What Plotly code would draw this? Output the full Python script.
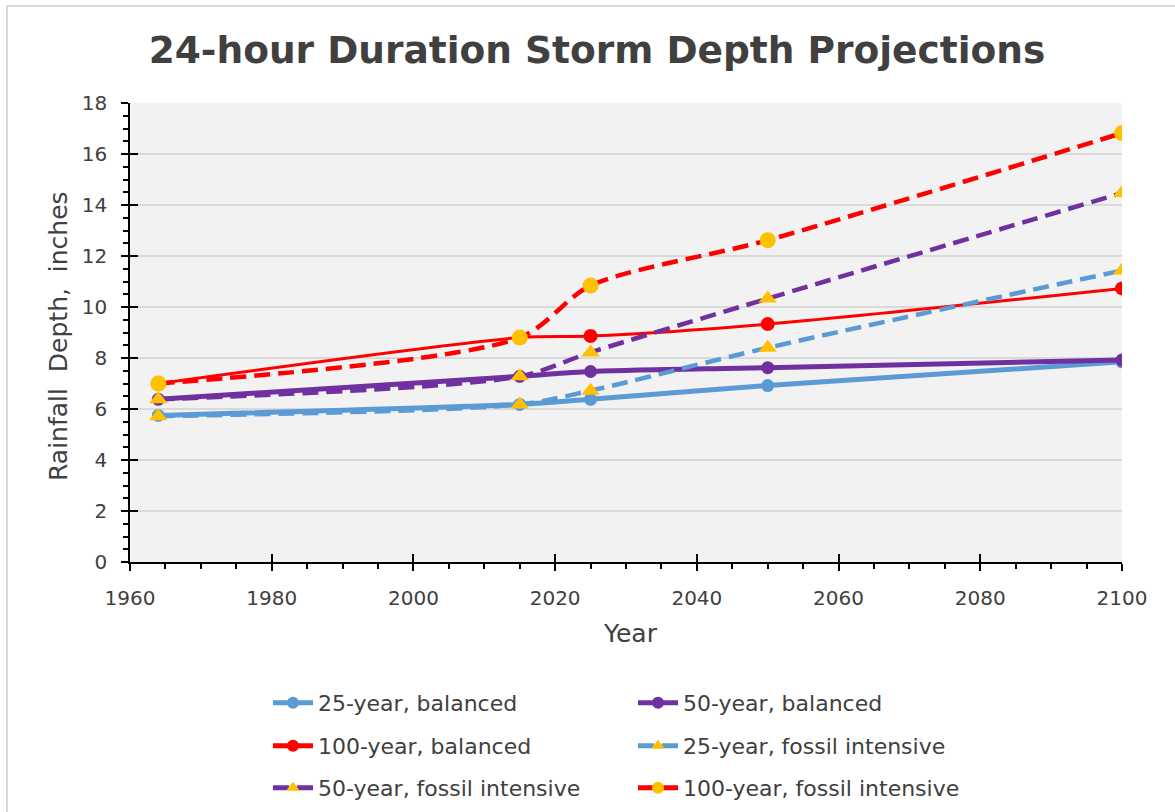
import plotly.graph_objects as go

years = [1964, 2015, 2025, 2050, 2100]

bal_25 = [5.75, 6.18, 6.38, 6.92, 7.85]
bal_50 = [6.38, 7.28, 7.47, 7.62, 7.92]
bal_100 = [7.0, 8.8, 8.86, 9.33, 10.73]
fos_25 = [5.72, 6.18, 6.72, 8.4, 11.43]
fos_50 = [6.38, 7.28, 8.22, 10.33, 14.47]
fos_100 = [7.0, 8.8, 10.84, 12.62, 16.82]

names = ["25-year, balanced", "50-year, balanced", "100-year, balanced",
         "25-year, fossil intensive", "50-year, fossil intensive", "100-year, fossil intensive"]

BLUE = "#5B9BD5"
PURPLE = "#7030A0"
RED = "#FF0000"
YELLOW = "#FFC000"
TXT = "#404040"

fig = go.Figure()

specs = [
    (bal_25, names[0], BLUE, 5, "solid", "circle", BLUE, 13, "legend"),
    (bal_50, names[1], PURPLE, 5, "solid", "circle", PURPLE, 13, "legend"),
    (bal_100, names[2], RED, 3, "solid", "circle", RED, 14, "legend2"),
    (fos_25, names[3], BLUE, 4.5, "16px,8px", "triangle-up", YELLOW, 16, "legend2"),
    (fos_50, names[4], PURPLE, 4.5, "16px,8px", "triangle-up", YELLOW, 16, "legend3"),
    (fos_100, names[5], RED, 4.5, "16px,8px", "circle", YELLOW, 16, "legend3"),
]

for vals, nm, col, w, dash, sym, mcol, msz, lg in specs:
    fig.add_trace(go.Scatter(
        x=years, y=vals, name=nm, mode="lines+markers",
        line=dict(color=col, width=w, dash=dash, shape="spline", smoothing=0.8),
        marker=dict(symbol=sym, color=mcol, size=msz, line=dict(width=0)),
        legend=lg,
    ))

W, H = 1175, 812
L, R, T, B = 130, W - 1122, 103, H - 562
pw = W - L - R
ph = H - T - B

def px_x(p):
    return (p - L) / pw

def px_y(p):
    return (H - B - p) / ph

leg_common = dict(orientation="h", font=dict(family="DejaVu Sans", size=22, color=TXT),
                  entrywidth=310, entrywidthmode="pixels", bgcolor="rgba(0,0,0,0)",
                  xanchor="left", yanchor="middle", itemwidth=40, itemsizing="constant",
                  xref="container", yref="container")

fig.update_layout(
    width=W, height=H,
    margin=dict(l=L, r=R, t=T, b=B, autoexpand=False),
    paper_bgcolor="white",
    plot_bgcolor="#F2F2F2",
    font=dict(family="DejaVu Sans", color=TXT),
    title=dict(text="<b>24-hour Duration Storm Depth Projections</b>",
               x=597 / W, xanchor="center", y=1 - 50 / H, yanchor="middle",
               xref="container", yref="container",
               font=dict(family="DejaVu Sans", size=37.5, color=TXT)),
    xaxis=dict(range=[1960, 2100], dtick=20, tick0=1960, showgrid=False,
               showline=True, linecolor="black", linewidth=1.5,
               ticks="outside", ticklen=7, tickwidth=1.5, tickcolor="black",
               minor=dict(dtick=5, ticks="outside", ticklen=5, tickwidth=1.5, tickcolor="black", showgrid=False),
               tickfont=dict(family="DejaVu Sans", size=20, color=TXT),
               zeroline=False, ticklabelstandoff=10),
    yaxis=dict(range=[0, 18], dtick=2, showgrid=True, gridcolor="#D9D9D9", gridwidth=1.5,
               showline=True, linecolor="black", linewidth=1.5,
               ticks="outside", ticklen=7, tickwidth=1.5, tickcolor="black",
               minor=dict(dtick=0.5, ticks="outside", ticklen=5, tickwidth=1.5, tickcolor="black", showgrid=False),
               tickfont=dict(family="DejaVu Sans", size=20, color=TXT),
               zeroline=False, ticklabelstandoff=10),
    xaxis2=dict(range=[1960, 2100], overlaying="x", anchor="y", dtick=20, tick0=1960,
                ticks="inside", ticklen=8, tickwidth=1.5, tickcolor="black",
                showticklabels=False, showgrid=False, showline=False, zeroline=False),
    yaxis2=dict(range=[0, 18], overlaying="y", anchor="x", side="left", dtick=2,
                ticks="inside", ticklen=8, tickwidth=1.5, tickcolor="black",
                showticklabels=False, showgrid=False, showline=False, zeroline=False),
    legend=dict(x=268 / W, y=1 - 703 / H, **leg_common),
    legend2=dict(x=268 / W, y=1 - 746 / H, **leg_common),
    legend3=dict(x=268 / W, y=1 - 788 / H, **leg_common),
    showlegend=True,
)

# invisible trace so the overlay axes render
fig.add_trace(go.Scatter(x=[1960], y=[0], xaxis="x2", yaxis="y2", mode="markers",
                         marker=dict(opacity=0), showlegend=False, hoverinfo="skip"))

fig.add_annotation(text="Year", xref="paper", yref="paper", x=px_x(630), y=px_y(633),
                   xanchor="center", yanchor="middle", showarrow=False,
                   font=dict(family="DejaVu Sans", size=25, color=TXT))
fig.add_annotation(text="Rainfall  Depth,  inches", xref="paper", yref="paper", x=px_x(58), y=px_y(336),
                   xanchor="center", yanchor="middle", showarrow=False, textangle=-90,
                   font=dict(family="DejaVu Sans", size=25, color=TXT))

fig.add_shape(type="rect", xref="paper", yref="paper",
              x0=px_x(7), x1=px_x(1185), y0=px_y(830), y1=px_y(6),
              line=dict(color="#D9D9D9", width=2), fillcolor="rgba(0,0,0,0)", layer="below")

fig.write_html("out.html", config={"displayModeBar": False},
               post_script="document.body.style.margin='0';")
